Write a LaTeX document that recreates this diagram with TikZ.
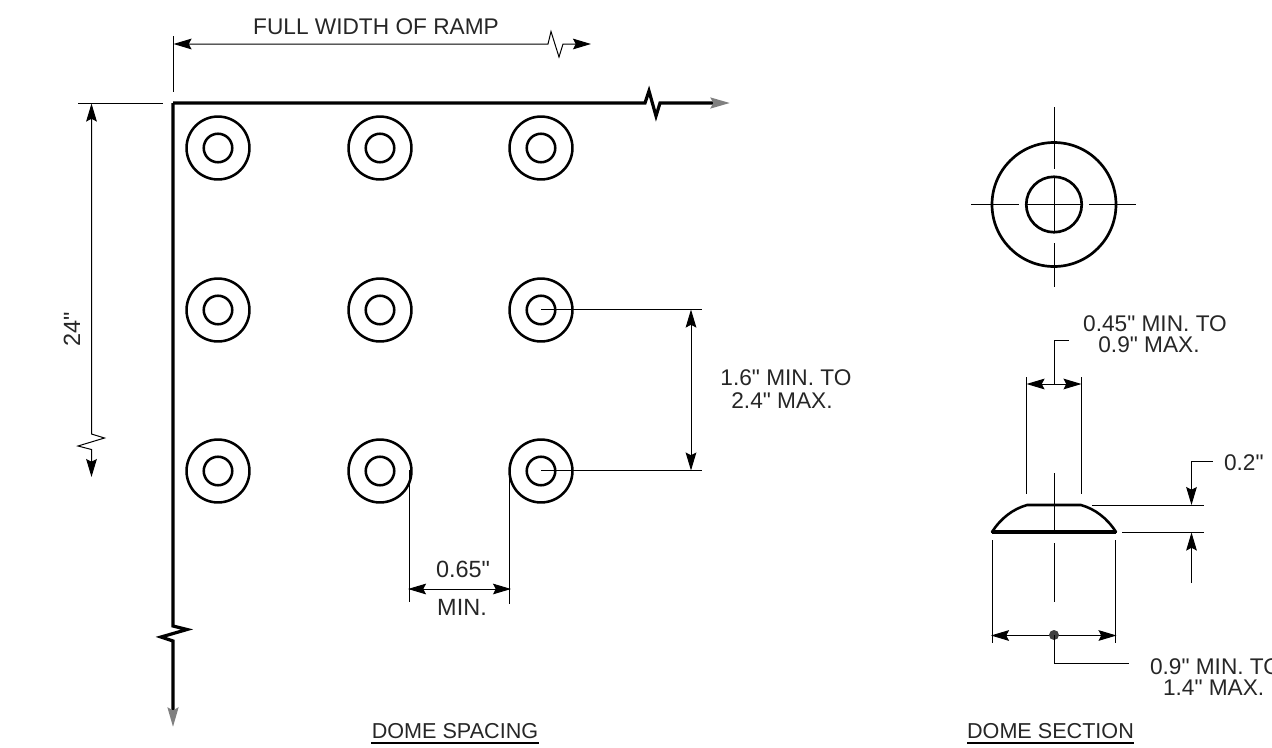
\documentclass[tikz,border=0pt]{standalone}
\usepackage{fontspec}
\newfontfamily\lblfont{Liberation Sans}
\usetikzlibrary{arrows.meta}
\tikzset{
  outerdome/.style={circle,draw,line width=1.9pt,minimum size=47.2pt,inner sep=0pt,outer sep=0pt},
  innerdome/.style={circle,draw,line width=1.9pt,minimum size=21.4pt,inner sep=0pt,outer sep=0pt},
  outerbig/.style={circle,draw,line width=2pt,minimum size=93pt,inner sep=0pt,outer sep=0pt},
  innerbig/.style={circle,draw,line width=2pt,minimum size=41.6pt,inner sep=0pt,outer sep=0pt},
  thin line/.style={line width=0.75pt,black},
  heavy line/.style={line width=2.4pt,black},
  dimtip/.tip={Stealth[length=13.5pt,width=8pt,inset=2pt]},
  greytip/.tip={Stealth[length=14.5pt,width=8pt,inset=2pt,color=black!50]},
  lbl/.style={anchor=base,inner sep=0pt,outer sep=0pt,text=black!85},
  big/.style={lbl,font=\lblfont\fontsize{17pt}{20pt}\selectfont},
  mid/.style={lbl,font=\lblfont\fontsize{16.2pt}{20pt}\selectfont},
  small/.style={lbl,font=\lblfont\fontsize{17.6pt}{20pt}\selectfont},
}
\begin{document}
\begin{tikzpicture}[x=0.75pt,y=-0.75pt]
\useasboundingbox (0,0) rectangle (1272,747);
% domes
\foreach \c/\x in {1/218,2/380,3/541}{
  \foreach \r/\y in {1/148,2/310,3/471}{
    \node[outerdome] (o\c\r) at (\x,\y) {};
    \node[innerdome] (i\c\r) at (\x,\y) {};
  }
}
% ramp edges
\coordinate (corner) at (173,103);
\coordinate (hend) at (730,103);
\coordinate (vend) at (173,727);
\draw[heavy line,-{greytip},line join=miter] (corner) -- (645,103) -- (649,91) -- (656,116) -- (660,103) -- (hend);
\draw[heavy line,-{greytip},line join=miter] (corner) -- (173,626) -- (187,629.5) -- (161,637) -- (173,641) -- (vend);
% full width dimension
\coordinate (fwa) at (173.5,36);
\coordinate (fwb) at (173.5,92);
\coordinate (fwl) at (173.5,44);
\coordinate (fwr) at (591,44);
\draw[thin line] (fwa) -- (fwb);
\draw[thin line,{dimtip}-{dimtip}] (fwl) -- (548,44) -- (551,31.5) -- (559,57) -- (563,44) -- (fwr);
\node[big] (tfw) at (376,34.5) {FULL WIDTH OF RAMP};
% 24 inch dimension
\coordinate (ha) at (78,103.5);
\coordinate (hb) at (163,103.5);
\coordinate (ht) at (91.5,103.5);
\coordinate (hbot) at (91.5,477);
\draw[thin line] (ha) -- (hb);
\draw[thin line,{dimtip}-{dimtip}] (ht) -- (91.5,434) -- (104.5,438) -- (78,446) -- (91.5,449.5) -- (hbot);
\node[small,rotate=90] (t24) at (80,329) {24"};
% spacing 1.6
\coordinate (sa) at (702,309.5);
\coordinate (sb) at (702,470.5);
\coordinate (sc) at (541,309.5);
\coordinate (sd) at (541,470.5);
\coordinate (st) at (691,309.5);
\coordinate (sbot) at (691,470.5);
\draw[thin line] (sc) -- (sa);
\draw[thin line] (sd) -- (sb);
\draw[thin line,{dimtip}-{dimtip}] (st) -- (sbot);
\node[big] (t16a) at (786,385) {1.6" MIN. TO};
\node[big] (t16b) at (782,408) {2.4" MAX.};
% spacing 0.65
\coordinate (ea) at (409.5,602);
\coordinate (eb) at (509,604);
\coordinate (el) at (409.5,470);
\coordinate (er) at (509,470);
\coordinate (dl) at (408,589);
\coordinate (dr) at (511,589);
\draw[thin line] (el) -- (ea);
\draw[thin line] (er) -- (eb);
\draw[thin line,{dimtip}-{dimtip}] (dl) -- (dr);
\node[small] (t65) at (463,577) {0.65"};
\node[small] (tmin) at (462,615) {MIN.};
% titles
\node[mid] (tsp) at (455,738) {DOME SPACING};
\coordinate (ula) at (371,743);
\coordinate (ulb) at (539,743);
\draw[line width=1.9pt] (ula) -- (ulb);
\node[mid] (tse) at (1050.5,738) {DOME SECTION};
\coordinate (ulc) at (967,743);
\coordinate (uld) at (1134,743);
\draw[line width=1.9pt] (ulc) -- (uld);
% plan view of the dome
\node[outerbig] (po) at (1054,204.5) {};
\node[innerbig] (pi) at (1054,204.5) {};
\coordinate (c1) at (1054,107);
\coordinate (c2) at (1054,169);
\coordinate (c3) at (1054,177);
\coordinate (c4) at (1054,232);
\coordinate (c5) at (1054,243);
\coordinate (c6) at (1054,287);
\coordinate (h1) at (971,204.5);
\coordinate (h2) at (1019,204.5);
\coordinate (h3) at (1026,204.5);
\coordinate (h4) at (1081,204.5);
\coordinate (h5) at (1089,204.5);
\coordinate (h6) at (1136,204.5);
\draw[thin line] (c1) -- (c2) (c3) -- (c4) (c5) -- (c6);
\draw[thin line] (h1) -- (h2) (h3) -- (h4) (h5) -- (h6);
% section
\coordinate (bl) at (992,532);
\coordinate (br) at (1116,532);
\coordinate (tl) at (1027,505);
\coordinate (tr) at (1081,505);
\draw[line width=1.9pt,line cap=round] (bl) .. controls (1001,518) and (1013,509) .. (tl) -- (tr) .. controls (1095,509) and (1107,518) .. (br);
\draw[line width=2.6pt] (bl) -- (br);
\coordinate (x1) at (1026.5,377);
\coordinate (x2) at (1026.5,494);
\coordinate (x3) at (1081.5,377);
\coordinate (x4) at (1081.5,494);
\draw[thin line] (x1) -- (x2);
\draw[thin line] (x3) -- (x4);
\coordinate (w1) at (1026.5,384);
\coordinate (w2) at (1081.5,384);
\draw[thin line,{dimtip}-{dimtip}] (w1) -- (w2);
\coordinate (lm) at (1054,384);
\coordinate (le) at (1069,340);
\draw[thin line] (lm) |- (le);
\node[big] (t45a) at (1155,331) {0.45" MIN. TO};
\node[big] (t45b) at (1149,352.5) {0.9" MAX.};
\coordinate (m1) at (1054,473);
\coordinate (m2) at (1054,532);
\coordinate (m3) at (1054,543);
\coordinate (m4) at (1054,602);
\draw[thin line] (m1) -- (m2) (m3) -- (m4);
% height 0.2
\coordinate (y1) at (1092,505);
\coordinate (y2) at (1204,505);
\coordinate (y3) at (1122,532.5);
\coordinate (y4) at (1204,532.5);
\draw[thin line] (y1) -- (y2);
\draw[thin line] (y3) -- (y4);
\coordinate (a1) at (1212.5,461.5);
\coordinate (a2) at (1191.5,505);
\coordinate (a3) at (1191.5,583);
\coordinate (a4) at (1191.5,532.5);
\draw[thin line,-{dimtip}] (a1) -| (a2);
\draw[thin line,-{dimtip}] (a3) -- (a4);
\node[big,anchor=base west] (t02) at (1224,470) {0.2"};
% base width
\coordinate (z1) at (992.5,540);
\coordinate (z2) at (992.5,643);
\coordinate (z3) at (1115.5,540);
\coordinate (z4) at (1115.5,643);
\draw[thin line] (z1) -- (z2);
\draw[thin line] (z3) -- (z4);
\coordinate (w3) at (991,635.5);
\coordinate (w4) at (1116.5,635.5);
\draw[thin line,{dimtip}-{dimtip}] (w3) -- (w4);
\node[circle,fill=black!75,minimum size=7.5pt,inner sep=0pt] (dot) at (1054,635) {};
\coordinate (ld) at (1129,663.5);
\draw[thin line] (dot.center) |- (ld);
\node[big,anchor=base west] (t09a) at (1150,674) {0.9" MIN. TO};
\node[big,anchor=base west] (t09b) at (1163,695) {1.4" MAX.};
\end{tikzpicture}
\end{document}
